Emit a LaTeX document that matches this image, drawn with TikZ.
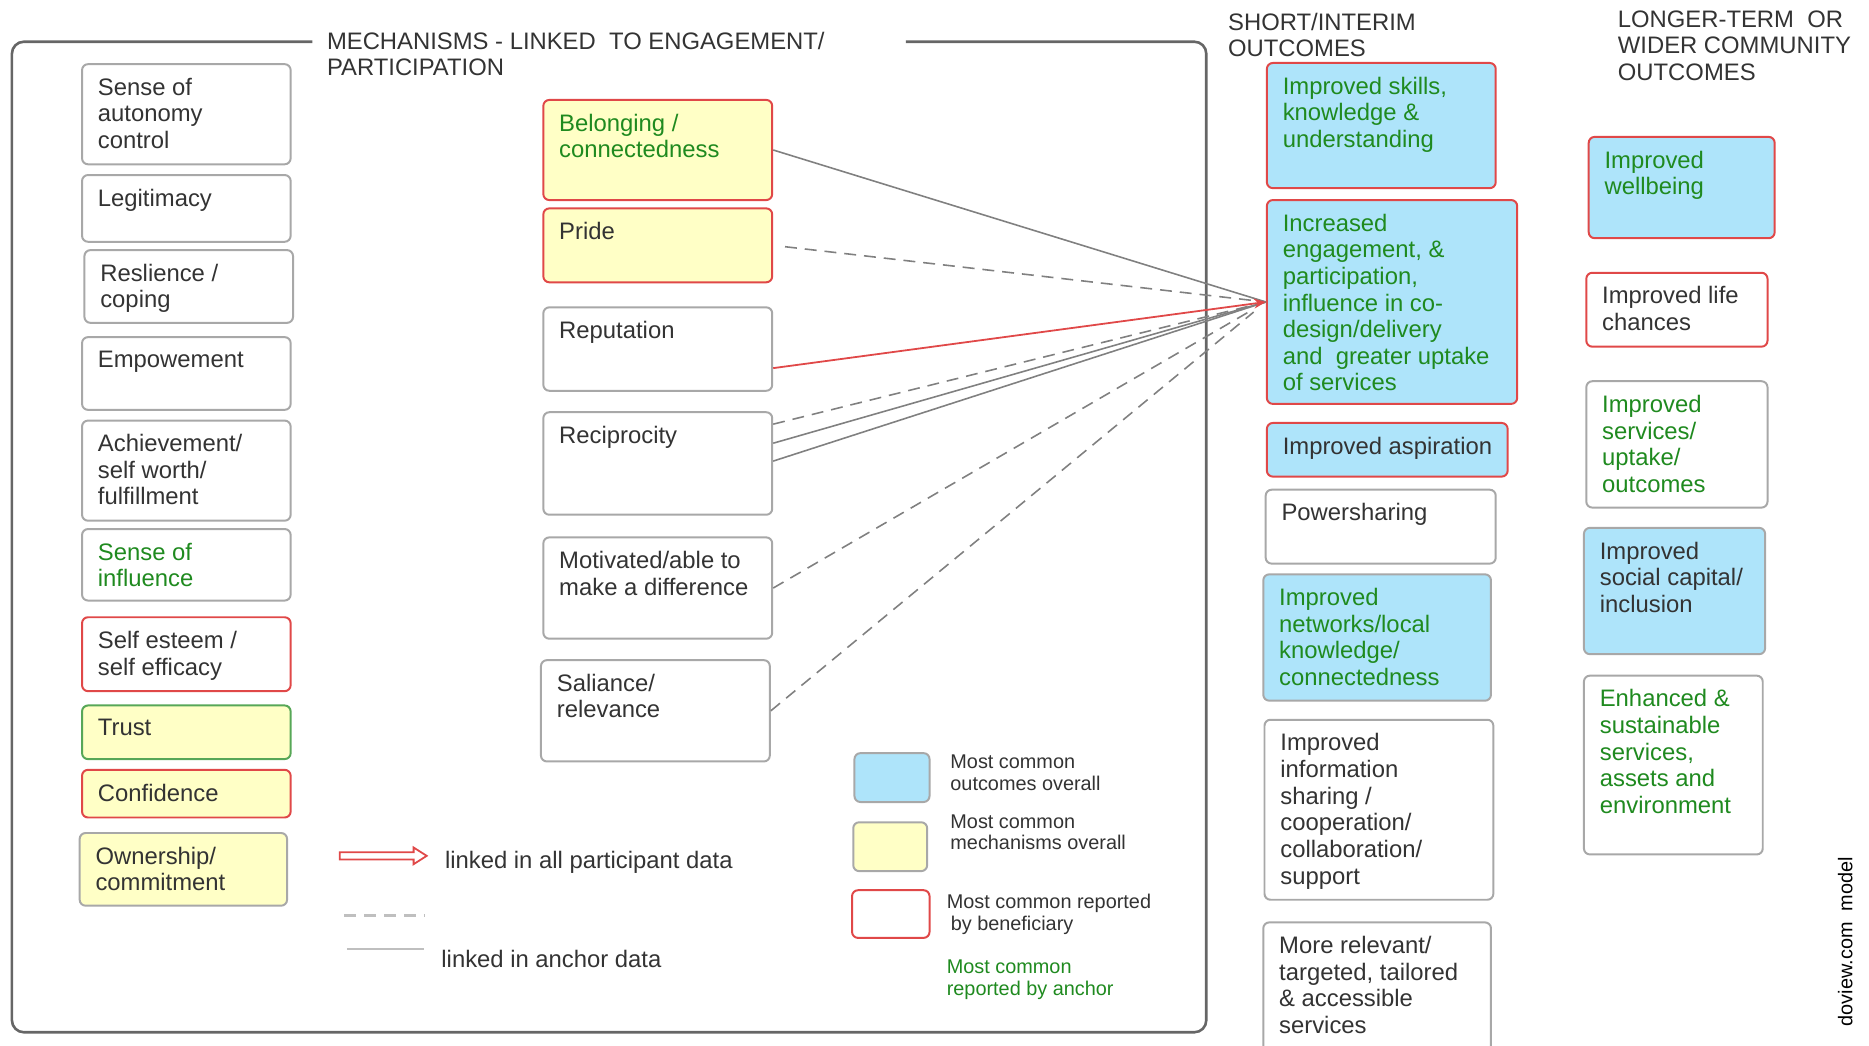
\documentclass[tikz,border=0pt]{standalone}
\usepackage{fontspec}
\setmainfont{Liberation Sans}
\usepackage{xcolor}
\usepackage{tikz}
\usetikzlibrary{arrows.meta,positioning,calc}

\definecolor{mechyel}{HTML}{FFFFC6}
\definecolor{outblue}{HTML}{AEE4FA}
\definecolor{linkred}{HTML}{E04848}
\definecolor{ancgreen}{HTML}{1F8A1F}
\definecolor{boxgray}{HTML}{A8A8A8}
\definecolor{txtgray}{HTML}{333333}

\newlength{\dpx}
\setlength{\dpx}{0.6pt}
\newcommand{\boxtxt}[3]{\parbox[t][\dimexpr#2\dpx-14pt\relax][t]{\dimexpr#1\dpx-16pt\relax}{\raggedright\rightskip=-20pt plus 1fil\relax #3}}

\begin{document}
\begin{tikzpicture}[x=0.6pt,y=-0.6pt,font=\fontsize{12}{13.4}\selectfont,
  mbox/.style={draw=boxgray,line width=1pt,rounded corners=3pt,fill=white,anchor=north west,inner xsep=8pt,inner ysep=7pt,text=txtgray},
  redb/.style={draw=linkred},
  grnb/.style={draw=ancgreen!75},
  mech/.style={fill=mechyel},
  outc/.style={fill=outblue},
  anc/.style={text=ancgreen},
  head/.style={anchor=north west,inner sep=0pt,align=left,text=txtgray},
  leg/.style={anchor=north west,inner sep=0pt,align=left,text=txtgray,font=\fontsize{10}{10.8}\selectfont},
  link/.style={draw=black!50,line width=0.8pt},
  dlink/.style={link,dash pattern=on 6pt off 4pt},
  redlink/.style={draw=linkred,line width=0.9pt}]
\useasboundingbox (0,0) rectangle (1568,877);

\draw[black!60,line width=1.3pt,rounded corners=6pt] (262,35) -- (10,35) -- (10,866) -- (1012,866) -- (1012,35) -- (760,35);
\node[head] (mechhead) at (274,26.5) {MECHANISMS - LINKED~ TO ENGAGEMENT/\\PARTICIPATION};
\node[head] (shorthead) at (1030,10.5) {SHORT/INTERIM\\OUTCOMES};
\node[head] (longhead) at (1357,8.5) {LONGER-TERM~ OR\\WIDER COMMUNITY\\OUTCOMES};

\node[mbox] (aut) at (68,53) {\boxtxt{175}{84}{Sense of\\autonomy\\control}};
\node[mbox] (leg) at (68,146) {\boxtxt{175}{56}{Legitimacy}};
\node[mbox] (res) at (70,209) {\boxtxt{175}{61}{Reslience /\\coping}};
\node[mbox] (emp) at (68,282) {\boxtxt{175}{61}{Empowement}};
\node[mbox] (ach) at (68,352) {\boxtxt{175}{84}{Achievement/\\self worth/\\fulfillment}};
\node[mbox,anc] (inf) at (68,443) {\boxtxt{175}{60}{Sense of\\influence}};
\node[mbox,redb] (est) at (68,517) {\boxtxt{175}{62}{Self esteem /\\self efficacy}};
\node[mbox,grnb,mech] (tru) at (68,591) {\boxtxt{175}{45}{Trust}};
\node[mbox,redb,mech] (con) at (68,645) {\boxtxt{175}{40}{Confidence}};
\node[mbox,mech] (own) at (66,698) {\boxtxt{174}{61}{Ownership/\\commitment}};

\node[mbox,redb,mech,anc] (bel) at (455,83) {\boxtxt{192}{84}{Belonging /\\connectedness}};
\node[mbox,redb,mech] (pri) at (455,174) {\boxtxt{192}{62}{Pride}};
\node[mbox] (rep) at (455,257) {\boxtxt{192}{70}{Reputation}};
\node[mbox] (rec) at (455,345) {\boxtxt{192}{86}{Reciprocity}};
\node[mbox] (mot) at (455,450) {\boxtxt{192}{85}{Motivated/able to\\make a difference}};
\node[mbox] (sal) at (453,553) {\boxtxt{192}{85}{Saliance/\\relevance}};

\node[mbox,redb,outc,anc] (ski) at (1062,52) {\boxtxt{192}{105}{Improved skills,\\knowledge \&\\understanding}};
\node[mbox,redb,outc,anc] (eng) at (1062,167) {\boxtxt{210}{171}{Increased\\engagement, \&\\participation,\\influence in co-\\design/delivery\\and~ greater uptake\\of services}};
\node[mbox,redb,outc] (asp) at (1062,354) {\boxtxt{202}{45}{Improved aspiration}};
\node[mbox] (pow) at (1061,410) {\boxtxt{193}{62}{Powersharing}};
\node[mbox,outc,anc] (net) at (1059,481) {\boxtxt{191}{106}{Improved\\networks/local\\knowledge/\\connectedness}};
\node[mbox] (shr) at (1060,603) {\boxtxt{192}{151}{Improved\\information\\sharing /\\cooperation/\\collaboration/\\support}};
\node[mbox] (rel) at (1059,773) {\boxtxt{191}{112}{More relevant/\\targeted, tailored\\\& accessible\\services}};

\node[mbox,redb,outc,anc] (wel) at (1332,114) {\boxtxt{156}{85}{Improved\\wellbeing}};
\node[mbox,redb] (lif) at (1330,228) {\boxtxt{152}{62}{Improved life\\chances}};
\node[mbox,anc] (svc) at (1330,319) {\boxtxt{152}{106}{Improved\\services/\\uptake/\\outcomes}};
\node[mbox,outc] (soc) at (1328,442) {\boxtxt{152}{106}{Improved\\social capital/\\inclusion}};
\node[mbox,anc] (env) at (1328,566) {\boxtxt{150}{150}{Enhanced \&\\sustainable\\services,\\assets and\\environment}};

\draw[link] (bel.east) -- (eng.west);
\draw[dlink,shorten <=6pt] (pri.east) -- (eng.west);
\draw[dlink] ([yshift=19.8pt]rec.east) -- (eng.west);
\draw[link] ([yshift=10.2pt]rec.east) -- (eng.west);
\draw[link] ([yshift=1.2pt]rec.east) -- (eng.west);
\draw[dlink,shorten >=10pt] (mot.east) -- (eng.west);
\draw[dlink,shorten >=8pt] (sal.east) -- (eng.west);
\draw[redlink,-{Stealth[length=6pt,width=5pt]}] ([yshift=-9.6pt]rep.east) -- (eng.west);

\node[mbox,outc,minimum width=37.8pt,minimum height=24.6pt] (keyout) at (716,631) {};
\node[mbox,mech,minimum width=37.2pt,minimum height=24.6pt] (keymech) at (715,689) {};
\node[mbox,redb,minimum width=39pt,minimum height=24pt] (keyben) at (714,746) {};
\node[leg] (keyouttxt) at (797,633) {Most common\\outcomes overall};
\node[leg] (keymechtxt) at (797,683) {Most common\\mechanisms overall};
\node[leg] (keybentxt) at (794,750) {Most common reported\\\hspace{2pt}by beneficiary};
\node[leg,text=ancgreen] (keyanctxt) at (794,805) {Most common\\reported by anchor};

\draw[linkred,line width=0.9pt,fill=white] (285,715) -- (347,715) -- (347,711) -- (358,718) -- (347,725) -- (347,721) -- (285,721) -- cycle;
\node[head] (alltxt) at (373,713.5) {linked in all participant data};
\draw[black!25,line width=1.5pt,dash pattern=on 6pt off 4pt] (289,768) -- (356,768);
\draw[black!25,line width=1.3pt] (291,796) -- (356,796);
\node[head] (anctxt) at (370,796.5) {linked in anchor data};

\node[rotate=90,inner sep=0pt,font=\fontsize{10}{12}\selectfont] (doview) at (1548,790) {doview.com~ model};
\end{tikzpicture}
\end{document}
